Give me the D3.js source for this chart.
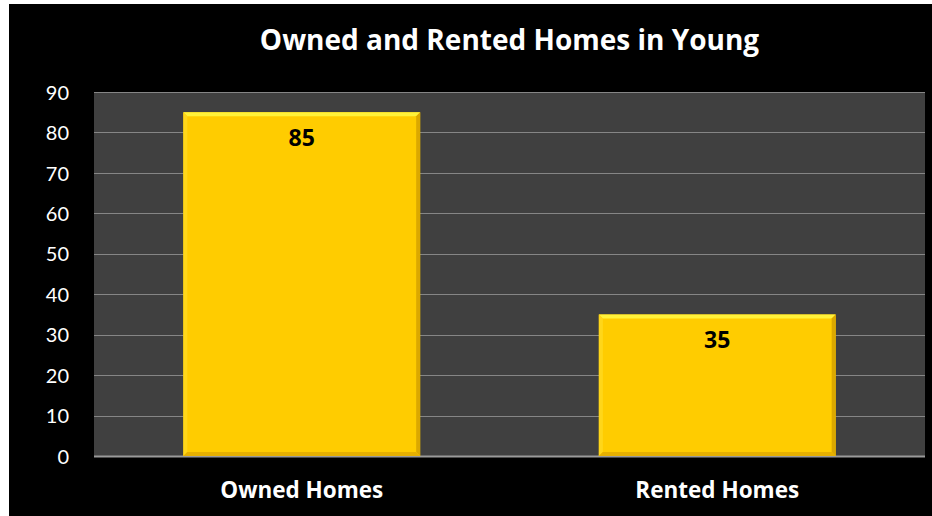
<!DOCTYPE html>
<html lang="en">
  <head>
    <meta charset="utf-8">
    <title>Owned and Rented Homes in Young</title>
    <style>
      html, body {
        margin: 0;
        background: #fff;
      }
      svg {
        display: block;
      }
    </style>
    <script src="https://d3js.org/d3.v7.min.js"></script>
  </head>
  <body>
    <svg id="chart" width="932" height="516"></svg>
  </body>
  <script>
  const categories = ['Owned Homes', 'Rented Homes'];
  const values = [85, 35];
  const yTicks = [0, 10, 20, 30, 40, 50, 60, 70, 80, 90];
  const title = 'Owned and Rented Homes in Young';

  const svg = d3.select('#chart');
  const font = 'Lato, "Open Sans", sans-serif';
  const boldFont = '"Open Sans", sans-serif';

  // black backdrop, leaves a thin white strip on the top and left
  svg.append('rect')
    .attr('x', 9).attr('y', 4)
    .attr('width', 923).attr('height', 512)
    .attr('fill', '#000');

  const plot = { left: 94, right: 925, top: 92, bottom: 456 };

  const x = d3.scaleBand()
    .domain(categories)
    .range([plot.left, plot.right])
    .paddingInner(0.43)
    .paddingOuter(0.215);

  const y = d3.scaleLinear()
    .domain([0, 90])
    .range([plot.bottom, plot.top]);

  svg.append('rect')
    .attr('x', plot.left).attr('y', plot.top)
    .attr('width', plot.right - plot.left)
    .attr('height', plot.bottom - plot.top)
    .attr('fill', '#404040');

  // gridlines
  svg.append('g')
    .selectAll('line')
    .data(yTicks)
    .join('line')
    .attr('x1', plot.left).attr('x2', plot.right)
    .attr('y1', d => Math.round(y(d)) + 0.5)
    .attr('y2', d => Math.round(y(d)) + 0.5)
    .attr('stroke', d => d === 0 ? '#9a9a9a' : '#868686')
    .attr('stroke-width', d => d === 0 ? 2 : 1.2);

  // y axis labels
  const yAxis = d3.axisLeft(y).tickValues(yTicks).tickSize(0).tickPadding(0);
  svg.append('g')
    .attr('transform', 'translate(69,0)')
    .call(yAxis)
    .call(g => g.select('.domain').remove())
    .selectAll('text')
    .attr('fill', '#fff')
    .attr('font-family', font)
    .attr('font-size', 20)
    .attr('dy', '0.36em');

  // bars with a bevelled edge
  const bev = 4;
  const bars = svg.append('g')
    .selectAll('g')
    .data(values)
    .join('g');

  bars.append('rect')
    .attr('x', (d, i) => x(categories[i]))
    .attr('y', d => y(d))
    .attr('width', x.bandwidth())
    .attr('height', d => y(0) - y(d))
    .attr('fill', '#ffcc00');

  function edge(d, i, side) {
    const x0 = x(categories[i]), x1 = x0 + x.bandwidth();
    const y0 = y(d), y1 = y(0);
    const pts = {
      top: [[x0, y0], [x1, y0], [x1 - bev, y0 + bev], [x0 + bev, y0 + bev]],
      left: [[x0, y0], [x0 + bev, y0 + bev], [x0 + bev, y1 - bev], [x0, y1]],
      right: [[x1, y0], [x1, y1], [x1 - bev, y1 - bev], [x1 - bev, y0 + bev]],
      bottom: [[x0, y1], [x0 + bev, y1 - bev], [x1 - bev, y1 - bev], [x1, y1]]
    };
    return pts[side].map(p => p.join(',')).join(' ');
  }
  const edgeFill = { top: '#fff23a', left: '#ffd61a', right: '#dba800', bottom: '#e6b000' };
  ['top', 'left', 'right', 'bottom'].forEach(side => {
    bars.append('polygon')
      .attr('points', (d, i) => edge(d, i, side))
      .attr('fill', edgeFill[side]);
  });

  // value labels
  bars.append('text')
    .attr('x', (d, i) => x(categories[i]) + x.bandwidth() / 2)
    .attr('y', d => y(d) + 34)
    .attr('text-anchor', 'middle')
    .attr('font-family', boldFont)
    .attr('font-weight', 'bold')
    .attr('font-size', 23)
    .attr('fill', '#000')
    .text(d => d);

  // category labels
  svg.append('g')
    .selectAll('text')
    .data(categories)
    .join('text')
    .attr('x', d => x(d) + x.bandwidth() / 2)
    .attr('y', 498)
    .attr('text-anchor', 'middle')
    .attr('font-family', boldFont)
    .attr('font-weight', 'bold')
    .attr('font-size', 22.5)
    .attr('fill', '#fff')
    .text(d => d);

  svg.append('text')
    .attr('x', (plot.left + plot.right) / 2)
    .attr('y', 50)
    .attr('text-anchor', 'middle')
    .attr('font-family', boldFont)
    .attr('font-weight', 'bold')
    .attr('font-size', 28)
    .attr('fill', '#fff')
    .text(title);
  </script>
</html>
